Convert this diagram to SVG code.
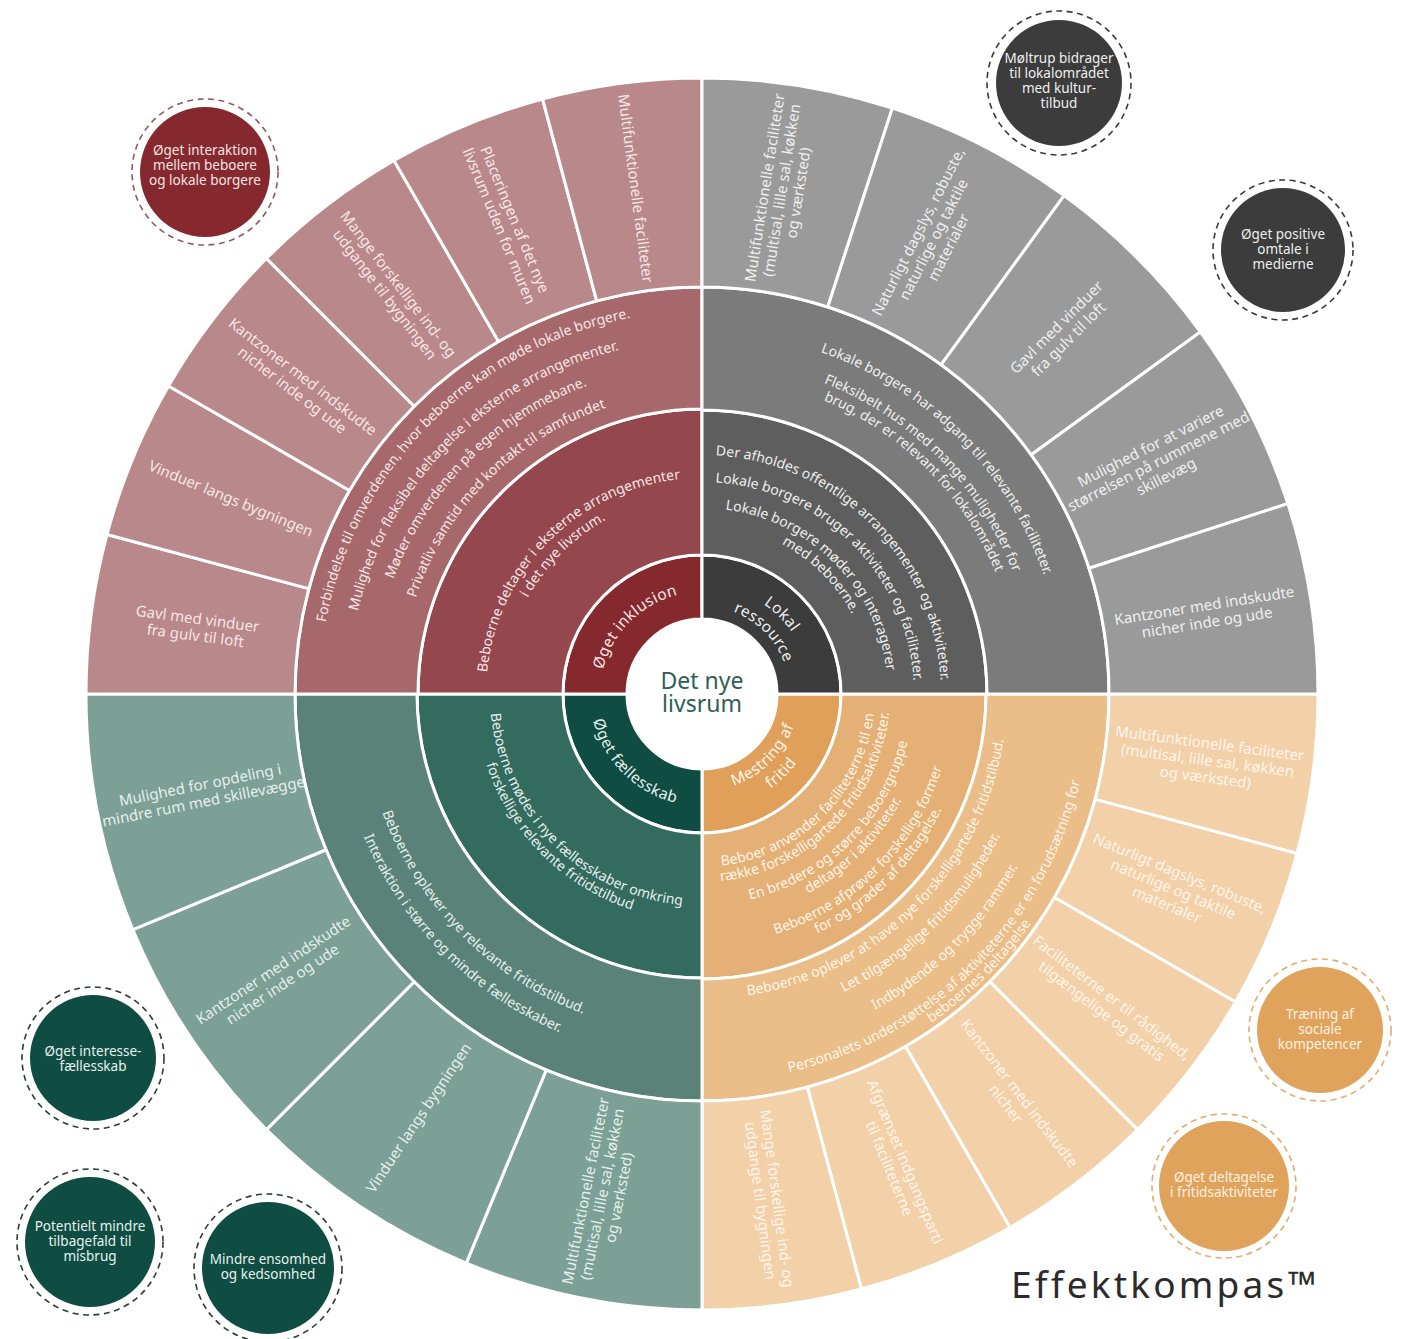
<svg xmlns="http://www.w3.org/2000/svg" width="1404" height="1339" viewBox="0 0 1404 1339">
<defs>
<style>
text{font-family:"Noto Sans","Open Sans","Liberation Sans",sans-serif;}
.o{font-size:15px;text-anchor:middle;}
.c{font-size:14px;}
.k{font-size:15.5px;letter-spacing:0.4px;}
.tl{fill:#f7e6e6}.tr{fill:#efefef}.bl{fill:#e4f0ec}.br{fill:#fff5e8}
.bt{font-size:13.5px;text-anchor:middle;}
.dash{fill:none;stroke-width:1.6;stroke-dasharray:6 4.5;}
</style>
<path id="qr1" d="M 841 694 A 139 139 0 0 1 702 833 L 702 769 A 75 75 0 0 0 777 694 Z"/>
<path id="qr2" d="M 986 694 A 285 285 0 0 1 702 979 L 702 833 A 139 139 0 0 0 841 694 Z"/>
<path id="qr3" d="M 1109 694 A 407 407 0 0 1 702 1101 L 702 979 A 285 285 0 0 0 986 694 Z"/>
<path id="s15" d="M 1318 694 A 616 616 0 0 1 1297.01 853.43 L 1095.13 799.34 A 407 407 0 0 0 1109 694 Z"/>
<path id="s18" d="M 1318 694 A 616 616 0 0 1 1287.85 884.35 L 1089.08 819.77 A 407 407 0 0 0 1109 694 Z"/>
<path id="s22" d="M 1318 694 A 616 616 0 0 1 1271.11 929.73 L 1078.02 849.75 A 407 407 0 0 0 1109 694 Z"/>
<path id="t102" d="M 600 694 A 102 102 0 0 1 804 694"/>
<path id="t216" d="M 486 694 A 216 216 0 0 1 918 694"/>
<path id="t199" d="M 503 694 A 199 199 0 0 1 901 694"/>
<path id="t383" d="M 319 694 A 383 383 0 0 1 1085 694"/>
<path id="t354" d="M 348 694 A 354 354 0 0 1 1056 694"/>
<path id="t329" d="M 373 694 A 329 329 0 0 1 1031 694"/>
<path id="t302" d="M 400 694 A 302 302 0 0 1 1004 694"/>
<path id="t109" d="M 593 694 A 109 109 0 0 1 811 694"/>
<path id="t88" d="M 614 694 A 88 88 0 0 1 790 694"/>
<path id="t239" d="M 463 694 A 239 239 0 0 1 941 694"/>
<path id="t212" d="M 490 694 A 212 212 0 0 1 914 694"/>
<path id="t186" d="M 516 694 A 186 186 0 0 1 888 694"/>
<path id="t170" d="M 532 694 A 170 170 0 0 1 872 694"/>
<path id="t362" d="M 340 694 A 362 362 0 0 1 1064 694"/>
<path id="t334" d="M 368 694 A 334 334 0 0 1 1036 694"/>
<path id="t318" d="M 384 694 A 318 318 0 0 1 1020 694"/>
<path id="b112" d="M 590 694 A 112 112 0 0 0 814 694"/>
<path id="b212" d="M 490 694 A 212 212 0 0 0 914 694"/>
<path id="b227" d="M 475 694 A 227 227 0 0 0 929 694"/>
<path id="b341" d="M 361 694 A 341 341 0 0 0 1043 694"/>
<path id="b367" d="M 335 694 A 367 367 0 0 0 1069 694"/>
<path id="b97" d="M 605 694 A 97 97 0 0 0 799 694"/>
<path id="b117" d="M 585 694 A 117 117 0 0 0 819 694"/>
<path id="b173" d="M 529 694 A 173 173 0 0 0 875 694"/>
<path id="b188" d="M 514 694 A 188 188 0 0 0 890 694"/>
<path id="b211" d="M 491 694 A 211 211 0 0 0 913 694"/>
<path id="b226" d="M 476 694 A 226 226 0 0 0 928 694"/>
<path id="b251" d="M 451 694 A 251 251 0 0 0 953 694"/>
<path id="b266" d="M 436 694 A 266 266 0 0 0 968 694"/>
<path id="b305" d="M 397 694 A 305 305 0 0 0 1007 694"/>
<path id="b330" d="M 372 694 A 330 330 0 0 0 1032 694"/>
<path id="b360" d="M 342 694 A 360 360 0 0 0 1062 694"/>
<path id="b388" d="M 314 694 A 388 388 0 0 0 1090 694"/>
<path id="b401" d="M 301 694 A 401 401 0 0 0 1103 694"/>
</defs>
<rect width="1404" height="1339" fill="#ffffff"/>

<g id="wheel" stroke="#ffffff" stroke-width="3" stroke-linejoin="round">
  <g id="sectors-br">
    <use href="#qr1" fill="#e0a05a"/>
    <use href="#qr2" fill="#e5b076"/>
    <use href="#qr3" fill="#ebbd88"/>
    <use href="#s15" fill="#f2d1a9"/>
    <use href="#s15" fill="#f2d1a9" transform="rotate(15 702 694)"/>
    <use href="#s15" fill="#f2d1a9" transform="rotate(30 702 694)"/>
    <use href="#s15" fill="#f2d1a9" transform="rotate(45 702 694)"/>
    <use href="#s15" fill="#f2d1a9" transform="rotate(60 702 694)"/>
    <use href="#s15" fill="#f2d1a9" transform="rotate(75 702 694)"/>
  </g>
  <g id="sectors-bl">
    <use href="#qr1" fill="#0f4d42" transform="rotate(90 702 694)"/>
    <use href="#qr2" fill="#336b5f" transform="rotate(90 702 694)"/>
    <use href="#qr3" fill="#5b8279" transform="rotate(90 702 694)"/>
    <use href="#s22" fill="#7c9f96" transform="rotate(90 702 694)"/>
    <use href="#s22" fill="#7c9f96" transform="rotate(112.5 702 694)"/>
    <use href="#s22" fill="#7c9f96" transform="rotate(135 702 694)"/>
    <use href="#s22" fill="#7c9f96" transform="rotate(157.5 702 694)"/>
  </g>
  <g id="sectors-tl">
    <use href="#qr1" fill="#85292e" transform="rotate(180 702 694)"/>
    <use href="#qr2" fill="#94474c" transform="rotate(180 702 694)"/>
    <use href="#qr3" fill="#a6686b" transform="rotate(180 702 694)"/>
    <use href="#s15" fill="#b9888b" transform="rotate(180 702 694)"/>
    <use href="#s15" fill="#b9888b" transform="rotate(195 702 694)"/>
    <use href="#s15" fill="#b9888b" transform="rotate(210 702 694)"/>
    <use href="#s15" fill="#b9888b" transform="rotate(225 702 694)"/>
    <use href="#s15" fill="#b9888b" transform="rotate(240 702 694)"/>
    <use href="#s15" fill="#b9888b" transform="rotate(255 702 694)"/>
  </g>
  <g id="sectors-tr">
    <use href="#qr1" fill="#3c3c3c" transform="rotate(270 702 694)"/>
    <use href="#qr2" fill="#5e5e5e" transform="rotate(270 702 694)"/>
    <use href="#qr3" fill="#7b7b7b" transform="rotate(270 702 694)"/>
    <use href="#s18" fill="#9a9a9a" transform="rotate(270 702 694)"/>
    <use href="#s18" fill="#9a9a9a" transform="rotate(288 702 694)"/>
    <use href="#s18" fill="#9a9a9a" transform="rotate(306 702 694)"/>
    <use href="#s18" fill="#9a9a9a" transform="rotate(324 702 694)"/>
    <use href="#s18" fill="#9a9a9a" transform="rotate(342 702 694)"/>
  </g>
</g>

<g id="center">
  <circle cx="702" cy="694" r="74" fill="#ffffff"/>
  <text x="702" y="689" font-size="23" text-anchor="middle" fill="#2f5f56">Det nye</text>
  <text x="702" y="712" font-size="23" text-anchor="middle" fill="#2f5f56">livsrum</text>
</g>

<g id="quadrant-tl">
  <text class="k tl" text-anchor="middle" transform="rotate(-45 702 694)"><textPath href="#t102" startOffset="50%">Øget inklusion</textPath></text>
  <text class="c tl" text-anchor="middle" transform="rotate(-45 702 694)"><textPath href="#t216" startOffset="50%">Beboerne deltager i eksterne arrangementer</textPath></text>
  <text class="c tl" text-anchor="middle" transform="rotate(-45 702 694)"><textPath href="#t199" startOffset="50%">i det nye livsrum.</textPath></text>
  <text class="c tl" text-anchor="middle" transform="rotate(-45 702 694)"><textPath href="#t383" startOffset="50%">Forbindelse til omverdenen, hvor beboerne kan møde lokale borgere.</textPath></text>
  <text class="c tl" text-anchor="middle" transform="rotate(-45 702 694)"><textPath href="#t354" startOffset="50%">Mulighed for fleksibel deltagelse i eksterne arrangementer.</textPath></text>
  <text class="c tl" text-anchor="middle" transform="rotate(-45 702 694)"><textPath href="#t329" startOffset="50%">Møder omverdenen på egen hjemmebane.</textPath></text>
  <text class="c tl" text-anchor="middle" transform="rotate(-45 702 694)"><textPath href="#t302" startOffset="50%">Privatliv samtid med kontakt til samfundet</textPath></text>
  <text class="o tl" transform="translate(196.4 627.4) rotate(7.5)"><tspan x="0" y="-3.5">Gavl med vinduer</tspan><tspan x="0" y="13.5">fra gulv til loft</tspan></text>
  <text class="o tl" transform="translate(230.8 498.8) rotate(22.5)"><tspan x="0" y="5">Vinduer langs bygningen</tspan></text>
  <text class="o tl" transform="translate(297.4 383.5) rotate(37.5)"><tspan x="0" y="-3.5">Kantzoner med indskudte</tspan><tspan x="0" y="13.5">nicher inde og ude</tspan></text>
  <text class="o tl" transform="translate(391.5 289.4) rotate(52.5)"><tspan x="0" y="-3.5">Mange forskellige ind- og</tspan><tspan x="0" y="13.5">udgange til bygningen</tspan></text>
  <text class="o tl" transform="translate(506.8 222.8) rotate(67.5)"><tspan x="0" y="-3.5">Placeringen af det nye</tspan><tspan x="0" y="13.5">livsrum uden for muren</tspan></text>
  <text class="o tl" transform="translate(635.4 188.4) rotate(82.5)"><tspan x="0" y="5">Multifunktionelle faciliteter</tspan></text>
</g>

<g id="quadrant-tr">
  <text class="k tr" text-anchor="middle" transform="rotate(45 702 694)"><textPath href="#t109" startOffset="50%">Lokal</textPath></text>
  <text class="k tr" text-anchor="middle" transform="rotate(45 702 694)"><textPath href="#t88" startOffset="50%">ressource</textPath></text>
  <text class="c tr" text-anchor="middle" transform="rotate(45 702 694)"><textPath href="#t239" startOffset="50%">Der afholdes offentlige arrangementer og aktiviteter.</textPath></text>
  <text class="c tr" text-anchor="middle" transform="rotate(45 702 694)"><textPath href="#t212" startOffset="50%">Lokale borgere bruger aktiviteter og faciliteter.</textPath></text>
  <text class="c tr" text-anchor="middle" transform="rotate(45 702 694)"><textPath href="#t186" startOffset="50%">Lokale borgere møder og interagerer</textPath></text>
  <text class="c tr" text-anchor="middle" transform="rotate(45 702 694)"><textPath href="#t170" startOffset="50%">med beboerne.</textPath></text>
  <text class="c tr" text-anchor="middle" transform="rotate(45 702 694)"><textPath href="#t362" startOffset="50%">Lokale borgere har adgang til relevante faciliteter.</textPath></text>
  <text class="c tr" text-anchor="middle" transform="rotate(45 702 694)"><textPath href="#t334" startOffset="50%">Fleksibelt hus med mange muligheder for</textPath></text>
  <text class="c tr" text-anchor="middle" transform="rotate(45 702 694)"><textPath href="#t318" startOffset="50%">brug, der er relevant for lokalområdet</textPath></text>
  <text class="o tr" transform="translate(781.8 190.3) rotate(-81)"><tspan x="0" y="-12">Multifunktionelle faciliteter</tspan><tspan x="0" y="5">(multisal, lille sal, køkken</tspan><tspan x="0" y="22">og værksted)</tspan></text>
  <text class="o tr" transform="translate(933.5 239.6) rotate(-63)"><tspan x="0" y="-12">Naturligt dagslys, robuste,</tspan><tspan x="0" y="5">naturlige og taktile</tspan><tspan x="0" y="22">materialer</tspan></text>
  <text class="o tr" transform="translate(1062.6 333.4) rotate(-45)"><tspan x="0" y="-3.5">Gavl med vinduer</tspan><tspan x="0" y="13.5">fra gulv til loft</tspan></text>
  <text class="o tr" transform="translate(1158.5 461.5) rotate(-27)"><tspan x="0" y="-12">Mulighed for at variere</tspan><tspan x="0" y="5">størrelsen på rummene med</tspan><tspan x="0" y="22">skillevæg</tspan></text>
  <text class="o tr" transform="translate(1205.7 614.2) rotate(-9)"><tspan x="0" y="-3.5">Kantzoner med indskudte</tspan><tspan x="0" y="13.5">nicher inde og ude</tspan></text>
</g>

<g id="quadrant-bl">
  <text class="k bl" text-anchor="middle" transform="rotate(45 702 694)"><textPath href="#b112" startOffset="50%">Øget fællesskab</textPath></text>
  <text class="c bl" text-anchor="middle" transform="rotate(45 702 694)"><textPath href="#b212" startOffset="50%">Beboerne mødes i nye fællesskaber omkring</textPath></text>
  <text class="c bl" text-anchor="middle" transform="rotate(45 702 694)"><textPath href="#b227" startOffset="50%">forskellige relevante fritidstilbud</textPath></text>
  <text class="c bl" text-anchor="middle" transform="rotate(45 702 694)"><textPath href="#b341" startOffset="50%">Beboerne oplever nye relevante fritidstilbud.</textPath></text>
  <text class="c bl" text-anchor="middle" transform="rotate(45 702 694)"><textPath href="#b367" startOffset="50%">Interaktion i større og mindre fællesskaber.</textPath></text>
  <text class="o bl" transform="translate(602.5 1194.2) rotate(-78.75)"><tspan x="0" y="-12">Multifunktionelle faciliteter</tspan><tspan x="0" y="5">(multisal, lille sal, køkken</tspan><tspan x="0" y="22">og værksted)</tspan></text>
  <text class="o bl" transform="translate(418.7 1118) rotate(-56.25)"><tspan x="0" y="5">Vinduer langs bygningen</tspan></text>
  <text class="o bl" transform="translate(278 977.3) rotate(-33.75)"><tspan x="0" y="-3.5">Kantzoner med indskudte</tspan><tspan x="0" y="13.5">nicher inde og ude</tspan></text>
  <text class="o bl" transform="translate(201.8 793.5) rotate(-11.25)"><tspan x="0" y="-3.5">Mulighed for opdeling i</tspan><tspan x="0" y="13.5">mindre rum med skillevægge</tspan></text>
</g>

<g id="quadrant-br">
  <text class="k br" text-anchor="middle" transform="rotate(-45 702 694)"><textPath href="#b97" startOffset="50%">Mestring af</textPath></text>
  <text class="k br" text-anchor="middle" transform="rotate(-45 702 694)"><textPath href="#b117" startOffset="50%">fritid</textPath></text>
  <text class="c br" text-anchor="middle" transform="rotate(-45 702 694)"><textPath href="#b173" startOffset="50%">Beboer anvender faciliteterne til en</textPath></text>
  <text class="c br" text-anchor="middle" transform="rotate(-45 702 694)"><textPath href="#b188" startOffset="50%">række forskelligartede fritidsaktiviteter.</textPath></text>
  <text class="c br" text-anchor="middle" transform="rotate(-45 702 694)"><textPath href="#b211" startOffset="50%">En bredere og større beboergruppe</textPath></text>
  <text class="c br" text-anchor="middle" transform="rotate(-45 702 694)"><textPath href="#b226" startOffset="50%">deltager i aktiviteter.</textPath></text>
  <text class="c br" text-anchor="middle" transform="rotate(-45 702 694)"><textPath href="#b251" startOffset="50%">Beboerne afprøver forskellige former</textPath></text>
  <text class="c br" text-anchor="middle" transform="rotate(-45 702 694)"><textPath href="#b266" startOffset="50%">for og grader af deltagelse.</textPath></text>
  <text class="c br" text-anchor="middle" transform="rotate(-45 702 694)"><textPath href="#b305" startOffset="50%">Beboerne oplever at have nye forskelligartede fritidstilbud.</textPath></text>
  <text class="c br" text-anchor="middle" transform="rotate(-45 702 694)"><textPath href="#b330" startOffset="50%">Let tilgængelige fritidsmuligheder.</textPath></text>
  <text class="c br" text-anchor="middle" transform="rotate(-45 702 694)"><textPath href="#b360" startOffset="50%">Indbydende og trygge rammer.</textPath></text>
  <text class="c br" text-anchor="middle" transform="rotate(-45 702 694)"><textPath href="#b388" startOffset="50%">Personalets understøttelse af aktiviteterne er en forudsætning for</textPath></text>
  <text class="c br" text-anchor="middle" transform="rotate(-45 702 694)"><textPath href="#b401" startOffset="50%">beboernes deltagelse</textPath></text>
  <text class="o br" transform="translate(1207.6 760.6) rotate(7.5)"><tspan x="0" y="-12">Multifunktionelle faciliteter</tspan><tspan x="0" y="5">(multisal, lille sal, køkken</tspan><tspan x="0" y="22">og værksted)</tspan></text>
  <text class="o br" transform="translate(1173.2 889.2) rotate(22.5)"><tspan x="0" y="-12">Naturligt dagslys, robuste,</tspan><tspan x="0" y="5">naturlige og taktile</tspan><tspan x="0" y="22">materialer</tspan></text>
  <text class="o br" transform="translate(1106.6 1004.5) rotate(37.5)"><tspan x="0" y="-3.5">Faciliteterne er til rådighed,</tspan><tspan x="0" y="13.5">tilgængelige og gratis</tspan></text>
  <text class="o br" transform="translate(1012.5 1098.6) rotate(52.5)"><tspan x="0" y="-3.5">Kantzoner med indskudte</tspan><tspan x="0" y="13.5">nicher</tspan></text>
  <text class="o br" transform="translate(897.2 1165.2) rotate(67.5)"><tspan x="0" y="-3.5">Afgrænset indgangsparti</tspan><tspan x="0" y="13.5">til faciliteterne</tspan></text>
  <text class="o br" transform="translate(768.6 1199.6) rotate(82.5)"><tspan x="0" y="-3.5">Mange forskellige ind- og</tspan><tspan x="0" y="13.5">udgange til bygningen</tspan></text>
</g>

<g id="bubble-interaktion">
  <circle cx="205" cy="172" r="73" class="dash" stroke="#8c5a63"/>
  <circle cx="205" cy="172" r="65" fill="#85292e"/>
  <text class="bt" fill="#f5e2e2"><tspan x="205" y="155">Øget interaktion</tspan><tspan x="205" y="170">mellem beboere</tspan><tspan x="205" y="185">og lokale borgere</tspan></text>
</g>
<g id="bubble-moeltrup">
  <circle cx="1059" cy="83" r="72" class="dash" stroke="#3a3a3a"/>
  <circle cx="1059" cy="83" r="63" fill="#3c3c3c"/>
  <text class="bt" fill="#eeeeee"><tspan x="1059" y="63">Møltrup bidrager</tspan><tspan x="1059" y="78">til lokalområdet</tspan><tspan x="1059" y="93">med kultur-</tspan><tspan x="1059" y="108">tilbud</tspan></text>
</g>
<g id="bubble-omtale">
  <circle cx="1283" cy="250" r="70" class="dash" stroke="#3a3a3a"/>
  <circle cx="1283" cy="250" r="62" fill="#3c3c3c"/>
  <text class="bt" fill="#eeeeee"><tspan x="1283" y="239">Øget positive</tspan><tspan x="1283" y="254">omtale i</tspan><tspan x="1283" y="269">medierne</tspan></text>
</g>
<g id="bubble-traening">
  <circle cx="1320" cy="1030" r="71" class="dash" stroke="#e3ab6e"/>
  <circle cx="1320" cy="1030" r="63" fill="#e0a35c"/>
  <text class="bt" fill="#fdf1e2"><tspan x="1320" y="1019">Træning af</tspan><tspan x="1320" y="1034">sociale</tspan><tspan x="1320" y="1049">kompetencer</tspan></text>
</g>
<g id="bubble-deltagelse">
  <circle cx="1224" cy="1186" r="72" class="dash" stroke="#e3ab6e"/>
  <circle cx="1224" cy="1186" r="65" fill="#e0a35c"/>
  <text class="bt" fill="#fdf1e2"><tspan x="1224" y="1182">Øget deltagelse</tspan><tspan x="1224" y="1197">i fritidsaktiviteter</tspan></text>
</g>
<g id="bubble-interesse">
  <circle cx="93" cy="1058" r="71" class="dash" stroke="#2c3d39"/>
  <circle cx="93" cy="1058" r="63" fill="#0f4d42"/>
  <text class="bt" fill="#e6f1ee"><tspan x="93" y="1056">Øget interesse-</tspan><tspan x="93" y="1071">fællesskab</tspan></text>
</g>
<g id="bubble-misbrug">
  <circle cx="90" cy="1242" r="73" class="dash" stroke="#2c3d39"/>
  <circle cx="90" cy="1242" r="65" fill="#0f4d42"/>
  <text class="bt" fill="#e6f1ee"><tspan x="90" y="1231">Potentielt mindre</tspan><tspan x="90" y="1246">tilbagefald til</tspan><tspan x="90" y="1261">misbrug</tspan></text>
</g>
<g id="bubble-ensomhed">
  <circle cx="268" cy="1268" r="74" class="dash" stroke="#2c3d39"/>
  <circle cx="268" cy="1268" r="66" fill="#0f4d42"/>
  <text class="bt" fill="#e6f1ee"><tspan x="268" y="1264">Mindre ensomhed</tspan><tspan x="268" y="1279">og kedsomhed</tspan></text>
</g>

<g id="title">
  <text x="1011" y="1298" font-size="37" letter-spacing="3.2" fill="#2b2b2b">Effektkompas™</text>
</g>
</svg>
